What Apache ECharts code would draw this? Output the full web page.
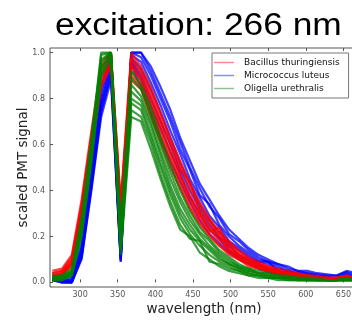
<!DOCTYPE html>
<html>
<head>
<meta charset="utf-8">
<script src="https://cdn.jsdelivr.net/npm/echarts@6/dist/echarts.min.js"></script>
<style>
  html, body { margin: 0; padding: 0; background: #fff; }
  #chart { width: 352px; height: 321px; }
</style>
</head>
<body>
<div id="chart"></div>
<script>
// PMT channel centres (nm)
var wavelength = [263, 276, 289, 302, 315, 328, 341, 354, 368, 381, 394, 407, 420, 433, 446, 459,
                  472, 485, 498, 511, 524, 537, 550, 563, 576, 589, 602, 615, 628, 641, 654, 667];

var xTicks = [300, 350, 400, 450, 500, 550, 600, 650];
var yTicks = [0, 0.2, 0.4, 0.6, 0.8, 1.0];

var speciesNames = ['Bacillus thuringiensis', 'Micrococcus luteus', 'Oligella urethralis'];

// Micrococcus luteus (blue) spectra
var micrococcus = [
  [0.03,0.02,0.02,0.17,0.49,0.85,1.00,0.12,1.00,1.00,0.94,0.85,0.75,0.63,0.53,0.43,0.36,0.29,0.23,0.19,0.15,0.12,0.10,0.08,0.07,0.05,0.05,0.04,0.035,0.03,0.05,0.04],
  [0.02,0.01,0.01,0.15,0.47,0.83,0.98,0.11,1.00,1.00,0.92,0.82,0.72,0.61,0.50,0.41,0.33,0.28,0.21,0.18,0.14,0.11,0.09,0.08,0.06,0.05,0.04,0.035,0.03,0.03,0.045,0.03],
  [0.02,0.01,0.01,0.14,0.45,0.80,0.97,0.12,1.00,0.98,0.90,0.80,0.70,0.58,0.49,0.38,0.34,0.25,0.20,0.16,0.13,0.10,0.09,0.07,0.05,0.04,0.04,0.03,0.025,0.02,0.04,0.02],
  [0.01,0.01,0.00,0.13,0.44,0.78,0.95,0.10,0.99,0.96,0.87,0.77,0.66,0.56,0.45,0.37,0.29,0.24,0.18,0.15,0.12,0.09,0.08,0.06,0.05,0.04,0.03,0.03,0.02,0.02,0.035,0.02],
  [0.02,0.00,0.00,0.12,0.43,0.77,0.93,0.11,0.98,0.93,0.84,0.74,0.63,0.52,0.43,0.34,0.27,0.22,0.17,0.14,0.11,0.09,0.09,0.05,0.04,0.03,0.03,0.02,0.02,0.015,0.03,0.015],
  [0.01,0.00,0.00,0.11,0.42,0.75,0.91,0.09,0.97,0.90,0.80,0.70,0.60,0.49,0.40,0.32,0.25,0.20,0.16,0.12,0.10,0.08,0.06,0.05,0.04,0.03,0.02,0.02,0.015,0.01,0.025,0.01],
  [0.02,0.01,0.00,0.11,0.41,0.74,0.90,0.10,0.96,0.88,0.77,0.67,0.57,0.47,0.37,0.30,0.23,0.19,0.14,0.11,0.09,0.07,0.05,0.04,0.035,0.025,0.02,0.015,0.01,0.01,0.02,0.01],
  [0.01,0.00,0.00,0.10,0.40,0.72,0.88,0.09,0.95,0.85,0.74,0.63,0.53,0.44,0.35,0.27,0.21,0.17,0.13,0.10,0.08,0.06,0.045,0.035,0.03,0.02,0.02,0.015,0.01,0.01,0.015,0.01]
];

// Bacillus thuringiensis (red) spectra
var bacillus = [
  [0.05,0.06,0.12,0.36,0.66,0.95,1.00,0.35,1.00,0.94,0.85,0.74,0.63,0.53,0.43,0.35,0.28,0.22,0.18,0.14,0.11,0.09,0.07,0.06,0.05,0.04,0.03,0.03,0.02,0.02,0.03,0.02],
  [0.04,0.05,0.11,0.34,0.64,0.93,1.00,0.33,0.98,0.92,0.83,0.72,0.61,0.51,0.41,0.33,0.27,0.21,0.17,0.13,0.10,0.08,0.07,0.05,0.04,0.04,0.03,0.02,0.02,0.02,0.03,0.02],
  [0.04,0.05,0.10,0.33,0.63,0.92,0.99,0.32,0.97,0.91,0.81,0.70,0.60,0.49,0.44,0.31,0.26,0.20,0.16,0.12,0.10,0.08,0.06,0.05,0.04,0.03,0.03,0.02,0.02,0.02,0.03,0.02],
  [0.03,0.04,0.09,0.32,0.62,0.90,0.98,0.31,0.95,0.89,0.79,0.68,0.57,0.47,0.38,0.30,0.24,0.19,0.15,0.12,0.09,0.07,0.06,0.05,0.04,0.03,0.02,0.02,0.02,0.01,0.02,0.01],
  [0.03,0.04,0.09,0.31,0.61,0.89,0.97,0.30,0.94,0.88,0.77,0.66,0.56,0.46,0.37,0.29,0.23,0.18,0.14,0.11,0.09,0.07,0.06,0.04,0.04,0.03,0.02,0.02,0.01,0.01,0.02,0.01],
  [0.03,0.04,0.08,0.30,0.59,0.88,0.96,0.29,0.92,0.86,0.75,0.64,0.54,0.44,0.35,0.28,0.22,0.24,0.14,0.11,0.08,0.07,0.05,0.04,0.03,0.03,0.02,0.02,0.01,0.01,0.02,0.01],
  [0.02,0.03,0.08,0.29,0.58,0.86,0.95,0.28,0.90,0.85,0.73,0.62,0.52,0.42,0.33,0.26,0.21,0.16,0.13,0.10,0.08,0.06,0.05,0.04,0.03,0.02,0.02,0.01,0.01,0.01,0.02,0.01],
  [0.02,0.03,0.07,0.28,0.57,0.85,0.94,0.27,0.88,0.84,0.72,0.61,0.50,0.41,0.32,0.25,0.20,0.16,0.12,0.10,0.07,0.06,0.05,0.04,0.03,0.02,0.02,0.01,0.01,0.01,0.01,0.01]
];

// Oligella urethralis (green) spectra
var oligella = [
  [0.03,0.03,0.06,0.28,0.62,1.00,1.00,0.25,0.92,0.86,0.76,0.63,0.51,0.40,0.31,0.24,0.19,0.14,0.11,0.08,0.06,0.05,0.04,0.03,0.03,0.02,0.02,0.02,0.01,0.01,0.02,0.01],
  [0.02,0.03,0.05,0.27,0.60,0.99,1.00,0.22,0.89,0.84,0.73,0.60,0.48,0.37,0.29,0.22,0.18,0.13,0.10,0.07,0.06,0.04,0.04,0.03,0.02,0.02,0.02,0.01,0.01,0.01,0.02,0.01],
  [0.02,0.02,0.05,0.26,0.59,0.97,1.00,0.20,0.86,0.81,0.70,0.57,0.45,0.35,0.27,0.21,0.16,0.12,0.09,0.07,0.05,0.04,0.03,0.03,0.02,0.02,0.01,0.01,0.01,0.01,0.01,0.01],
  [0.02,0.02,0.04,0.25,0.57,0.96,1.00,0.18,0.83,0.79,0.68,0.55,0.42,0.32,0.25,0.19,0.15,0.11,0.08,0.06,0.05,0.04,0.03,0.02,0.02,0.02,0.01,0.01,0.01,0.01,0.01,0.01],
  [0.02,0.02,0.04,0.24,0.56,0.94,0.99,0.17,0.80,0.77,0.65,0.52,0.40,0.30,0.23,0.18,0.14,0.10,0.08,0.06,0.04,0.03,0.03,0.02,0.02,0.01,0.01,0.01,0.01,0.01,0.01,0.01],
  [0.01,0.02,0.04,0.23,0.55,0.93,0.99,0.15,0.78,0.75,0.63,0.50,0.38,0.28,0.21,0.16,0.12,0.09,0.07,0.05,0.04,0.03,0.02,0.02,0.02,0.01,0.01,0.01,0.01,0.01,0.01,0.01],
  [0.01,0.01,0.03,0.21,0.53,0.91,0.98,0.14,0.75,0.72,0.61,0.47,0.35,0.25,0.19,0.18,0.09,0.08,0.06,0.05,0.03,0.03,0.02,0.02,0.01,0.01,0.01,0.01,0.01,0.01,0.01,0.01],
  [0.01,0.01,0.03,0.20,0.52,0.90,0.97,0.12,0.72,0.70,0.58,0.45,0.33,0.23,0.20,0.13,0.10,0.07,0.05,0.04,0.03,0.02,0.02,0.01,0.01,0.01,0.01,0.01,0.01,0.01,0.01,0.01]
];

var tickFont = 'DejaVu Sans';

function makeSeries(name, color, lines) {
  return lines.map(function (vals) {
    return {
      name: name,
      type: 'line',
      symbol: 'none',
      silent: true,
      data: vals.map(function (v, i) { return [wavelength[i], v]; }),
      lineStyle: { color: color, width: 2.2, opacity: 0.75 },
      itemStyle: { color: color }
    };
  });
}

var chart = echarts.init(document.getElementById('chart'));
var series = []
  .concat(makeSeries(speciesNames[1], '#0000ff', micrococcus))
  .concat(makeSeries(speciesNames[0], '#ff0000', bacillus))
  .concat(makeSeries(speciesNames[2], '#008000', oligella));

chart.setOption({
  animation: false,
  backgroundColor: '#fff',
  graphic: [{
    type: 'text',
    left: 55,
    top: 11,
    scaleX: 1.14,
    style: {
      text: 'excitation: 266 nm',
      font: '31px "Liberation Sans"',
      fill: '#000'
    }
  }],
  grid: {
    left: 50,
    top: 48,
    width: 316,
    height: 239,
    outerBoundsMode: 'none',
    show: true,
    borderColor: '#555',
    borderWidth: 1,
    backgroundColor: 'transparent'
  },
  legend: {
    data: speciesNames,
    orient: 'vertical',
    left: 212,
    top: 53,
    padding: [5, 9, 5, 2],
    itemGap: 4,
    icon: 'rect',
    itemWidth: 20,
    itemHeight: 1.5,
    itemStyle: { opacity: 0.45 },
    backgroundColor: '#fff',
    borderColor: '#777',
    borderWidth: 1,
    textStyle: { fontFamily: tickFont, fontSize: 9, color: '#111', padding: [0, 0, 0, 5] },
    z: 10
  },
  xAxis: [{
    type: 'value',
    min: 260,
    max: 680,
    name: 'wavelength (nm)',
    nameLocation: 'middle',
    nameGap: 15,
    nameMoveOverlap: false,
    nameTextStyle: { fontFamily: tickFont, fontSize: 13.5, color: '#222', padding: [0, 8, 0, 0] },
    axisLine: { show: false },
    axisTick: { show: true, inside: true, length: 3, lineStyle: { color: '#555' }, customValues: xTicks },
    axisLabel: { fontFamily: tickFont, fontSize: 8, color: '#555', margin: 4, customValues: xTicks },
    splitLine: { show: false }
  }, {
    type: 'value',
    position: 'top',
    min: 260,
    max: 680,
    axisLine: { show: false },
    axisTick: { show: true, inside: true, length: 3, lineStyle: { color: '#555' }, customValues: xTicks },
    axisLabel: { show: false },
    splitLine: { show: false }
  }],
  yAxis: {
    type: 'value',
    min: -0.02,
    max: 1.02,
    name: 'scaled PMT signal',
    nameLocation: 'middle',
    nameGap: 20,
    nameMoveOverlap: false,
    nameTextStyle: { fontFamily: tickFont, fontSize: 13.5, color: '#222' },
    axisLine: { show: false },
    axisTick: { show: true, inside: true, length: 3, lineStyle: { color: '#555' }, customValues: yTicks },
    axisLabel: {
      fontFamily: tickFont, fontSize: 8, color: '#555', margin: 5, customValues: yTicks,
      formatter: function (v) { return v.toFixed(1); }
    },
    splitLine: { show: false }
  },
  series: series
});
</script>
</body>
</html>
